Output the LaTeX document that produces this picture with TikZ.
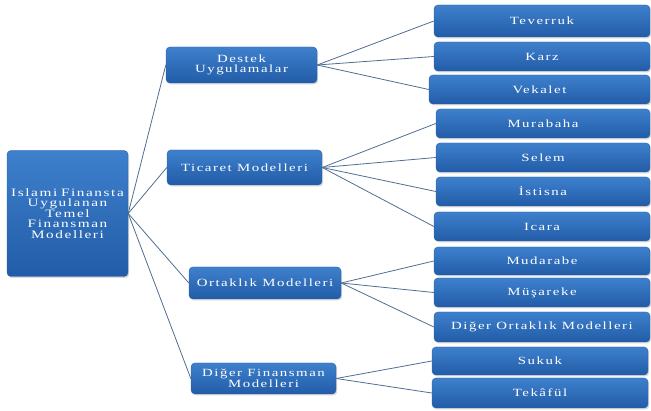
\documentclass[tikz,border=0pt]{standalone}
\usepackage{fontspec}
\setmainfont{Liberation Serif}[FakeStretch=1.35,LetterSpace=14]
\usetikzlibrary{shadows}
\definecolor{boxtop}{RGB}{62,128,204}
\definecolor{boxbot}{RGB}{34,92,168}
\definecolor{boxline}{RGB}{40,95,165}
\definecolor{conn}{RGB}{80,110,145}
\tikzset{
  box/.style={rectangle, rounded corners=4pt, top color=boxtop, bottom color=boxbot,
    draw=boxline, line width=0.4pt, text=white, align=center, inner sep=0pt,
    font=\fontsize{11}{10.5}\selectfont,
    drop shadow={shadow xshift=1.2pt, shadow yshift=-1.5pt, opacity=0.25, fill=black!60}},
  conn/.style={draw=conn, line width=0.8pt}
}
\begin{document}
\begin{tikzpicture}[x=1pt,y=-1pt]
\useasboundingbox (0,0) rectangle (651,411);
% root
\node[box, minimum width=121pt, minimum height=126pt, text width=121pt,
  font=\fontsize{11.3}{10.5}\selectfont] (root) at (67.5,213.5)
  {Islami Finansta\\Uygulanan\\Temel\\Finansman\\Modelleri};
% level 1
\node[box, minimum width=151pt, minimum height=36pt] (destek) at (241.5,65) {Destek\\Uygulamalar};
\node[box, minimum width=155pt, minimum height=35pt] (ticaret) at (244.5,167.5) {Ticaret Modelleri};
\node[box, minimum width=152pt, minimum height=32pt] (ortak) at (265,283) {Ortaklık Modelleri};
\node[box, minimum width=145pt, minimum height=31pt] (diger) at (263.5,378.5) {Diğer Finansman\\Modelleri};
% leaves
\node[box, minimum width=216pt, minimum height=32pt] (teverruk) at (542,21) {Teverruk};
\node[box, minimum width=216pt, minimum height=29pt] (karz) at (542,56.5) {Karz};
\node[box, minimum width=221pt, minimum height=29pt] (vekalet) at (539.5,89.5) {Vekalet};
\node[box, minimum width=214pt, minimum height=29pt] (murabaha) at (543,123.5) {Murabaha};
\node[box, minimum width=214pt, minimum height=29pt] (selem) at (543,157.5) {Selem};
\node[box, minimum width=214pt, minimum height=29pt] (istisna) at (543,191.5) {İstisna};
\node[box, minimum width=216pt, minimum height=29pt] (icara) at (542,226.5) {Icara};
\node[box, minimum width=216pt, minimum height=28pt] (mudarabe) at (542,261) {Mudarabe};
\node[box, minimum width=216pt, minimum height=29pt] (musareke) at (542,292.5) {Müşareke};
\node[box, minimum width=216pt, minimum height=30pt] (digerort) at (542,327) {Diğer Ortaklık Modelleri};
\node[box, minimum width=216pt, minimum height=28pt] (sukuk) at (540,361) {Sukuk};
\node[box, minimum width=216pt, minimum height=30pt] (tekaful) at (540,393) {Tekâfül};
% connectors
\foreach \c in {destek,ticaret,ortak,diger} \draw[conn] (root.east) -- (\c.west);
\foreach \c in {teverruk,karz,vekalet} \draw[conn] (destek.east) -- (\c.west);
\foreach \c in {murabaha,selem,istisna,icara} \draw[conn] (ticaret.east) -- (\c.west);
\foreach \c in {mudarabe,musareke,digerort} \draw[conn] (ortak.east) -- (\c.west);
\foreach \c in {sukuk,tekaful} \draw[conn] (diger.east) -- (\c.west);
\end{tikzpicture}
\end{document}
